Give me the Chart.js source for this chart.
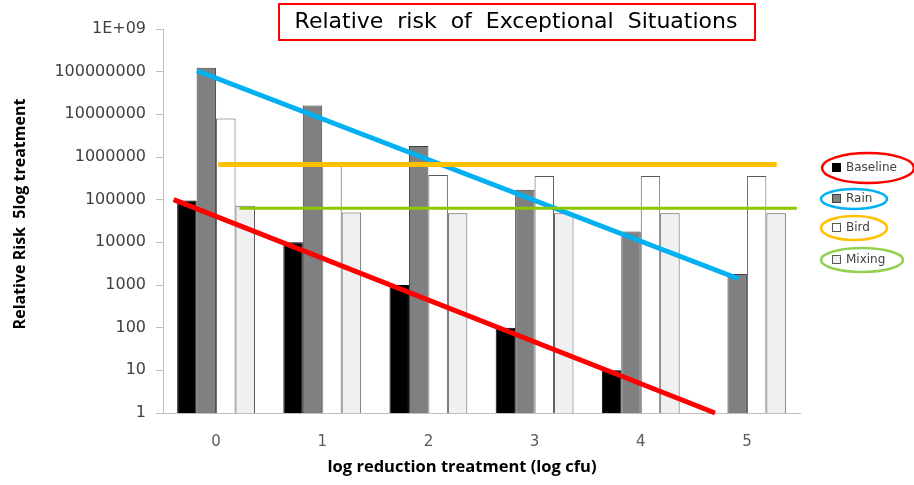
<!DOCTYPE html>
<html>
<head>
<meta charset="utf-8">
<script src="https://cdn.jsdelivr.net/npm/chart.js@4/dist/chart.umd.min.js"></script>
<style>
  html, body { margin: 0; padding: 0; background: #fff; }
  #wrap { position: relative; width: 914px; height: 485px; }
</style>
</head>
<body>
<div id="wrap"><canvas id="chart" width="914" height="485"></canvas></div>
<script>
// log reduction treatment (log cfu)
const categories = ['0', '1', '2', '3', '4', '5'];

// relative risk per scenario
const baseline = [95000, 10000, 1000, 100, 10, null];
const rain = [124000000, 16000000, 1800000, 170000, 18000, 1800];
const bird = [8000000, 700000, 380000, 360000, 360000, 360000];
const mixing = [72000, 50000, 48000, 48000, 48000, 48000];

// hand drawn trend lines: [position in category units, relative risk]
const baselineTrend = [[-0.4, 100000], [4.7, 1]];
const rainTrend = [[-0.18, 105000000], [4.92, 1400]];
const birdTrend = [[0.02, 670000], [5.28, 670000]];
const mixingTrend = [[0.22, 63000], [5.47, 63000]];

// y axis ticks
const yTicks = [1, 10, 100, 1000, 10000, 100000, 1000000, 10000000, 100000000, 1000000000];
const yTickLabels = ['1', '10', '100', '1000', '10000', '100000', '1000000', '10000000', '100000000', '1E+09'];

const seriesNames = ['Baseline', 'Rain', 'Bird', 'Mixing'];

const TICK_FONT = 'DejaVu Sans';
const TEXT_GREY = '#404040';

// Series styles
const barStyles = [
  { fill: '#000000', border: '#000000' },
  { fill: '#808080', border: '#404040' },
  { fill: '#ffffff', border: '#595959' },
  { fill: '#f0f0f0', border: '#595959' }
];
const ringColors = ['#ff0000', '#00b0f0', '#ffc000', '#92d050'];
const trendColors = ['#ff0000', '#00b0f0', '#ffc000', '#8cc800'];
const trendWidths = [5, 5, 5, 3];

// Trend lines, placed with the chart's own scales
const trendPlugin = {
  id: 'trends',
  afterDatasetsDraw(chart) {
    const ctx = chart.ctx;
    const xs = chart.scales.xl;
    const ys = chart.scales.y;
    ctx.save();
    ctx.lineCap = 'butt';
    [baselineTrend, rainTrend, birdTrend, mixingTrend].forEach((pairs, i) => {
      ctx.beginPath();
      pairs.forEach((p, j) => {
        const px = xs.getPixelForValue(p[0]);
        const py = ys.getPixelForValue(p[1]);
        if (j === 0) ctx.moveTo(px, py); else ctx.lineTo(px, py);
      });
      ctx.strokeStyle = trendColors[i];
      ctx.lineWidth = trendWidths[i];
      ctx.stroke();
    });
    ctx.restore();
  }
};

// Draws title box, axis titles and the ringed legend
const decorPlugin = {
  id: 'decor',
  afterDraw(chart) {
    const ctx = chart.ctx;
    ctx.save();

    // Title box
    ctx.strokeStyle = '#ff0000';
    ctx.lineWidth = 2;
    ctx.strokeRect(279, 4, 476, 36);
    ctx.fillStyle = '#000000';
    ctx.font = '22px "DejaVu Sans"';
    ctx.textAlign = 'center';
    ctx.textBaseline = 'middle';
    ctx.fillText('Relative  risk  of  Exceptional  Situations', 516, 22);

    // Y axis title
    ctx.save();
    ctx.translate(20, 214);
    ctx.rotate(-Math.PI / 2);
    ctx.font = 'bold 16px "Open Sans"';
    ctx.fillStyle = '#000000';
    ctx.fillText('Relative Risk  5log treatment', 0, 0);
    ctx.restore();

    // X axis title
    ctx.font = 'bold 16.5px "Open Sans"';
    ctx.fillStyle = '#000000';
    ctx.fillText('log reduction treatment (log cfu)', 462, 467);

    // Legend with rings
    const rows = [
      { y: 168, cx: 868, rx: 46, ry: 15 },
      { y: 199, cx: 854, rx: 33, ry: 10 },
      { y: 228, cx: 854, rx: 33, ry: 12 },
      { y: 260, cx: 862, rx: 41, ry: 12 }
    ];
    ctx.font = '12px "DejaVu Sans"';
    ctx.textAlign = 'left';
    seriesNames.forEach((name, i) => {
      const r = rows[i];
      ctx.fillStyle = barStyles[i].fill;
      ctx.strokeStyle = barStyles[i].border;
      ctx.lineWidth = 1;
      ctx.fillRect(832, r.y - 5, 9, 9);
      ctx.strokeRect(832.5, r.y - 4.5, 8, 8);
      ctx.fillStyle = TEXT_GREY;
      ctx.fillText(name, 846, r.y);
      ctx.beginPath();
      ctx.ellipse(r.cx, r.y, r.rx, r.ry, 0, 0, Math.PI * 2);
      ctx.strokeStyle = ringColors[i];
      ctx.lineWidth = 2.5;
      ctx.stroke();
    });

    ctx.restore();
  }
};

const barSets = [baseline, rain, bird, mixing].map((values, i) => ({
  label: seriesNames[i],
  data: values,
  backgroundColor: barStyles[i].fill,
  borderColor: barStyles[i].border,
  borderWidth: 1,
  categoryPercentage: 0.733,
  barPercentage: 1
}));

new Chart(document.getElementById('chart'), {
  type: 'bar',
  data: {
    labels: categories,
    datasets: barSets
  },
  options: {
    responsive: false,
    animation: false,
    layout: { padding: { top: 29, right: 114, bottom: 0, left: 0 } },
    plugins: {
      legend: { display: false },
      tooltip: { enabled: false }
    },
    scales: {
      x: {
        type: 'category',
        offset: true,
        grid: { display: false },
        border: { display: true, color: '#bfbfbf', width: 1 },
        ticks: { color: '#595959', font: { family: TICK_FONT, size: 15 }, padding: 12 },
        afterFit(scale) { scale.height = 72; }
      },
      xl: {
        type: 'linear',
        axis: 'x',
        display: false,
        offset: false,
        min: -0.5,
        max: 5.5
      },
      y: {
        type: 'logarithmic',
        min: 1,
        max: 1000000000,
        grid: { drawOnChartArea: false, tickLength: 7, color: '#bfbfbf' },
        border: { display: true, color: '#bfbfbf', width: 1 },
        afterBuildTicks(scale) {
          scale.ticks = yTicks.map(v => ({ value: v }));
        },
        ticks: {
          color: TEXT_GREY,
          font: { family: TICK_FONT, size: 16 },
          padding: 10,
          callback(value) {
            const i = yTicks.indexOf(value);
            return i >= 0 ? yTickLabels[i] : '';
          }
        },
        afterFit(scale) { scale.width = 163; }
      }
    }
  },
  plugins: [trendPlugin, decorPlugin]
});
</script>
</body>
</html>
